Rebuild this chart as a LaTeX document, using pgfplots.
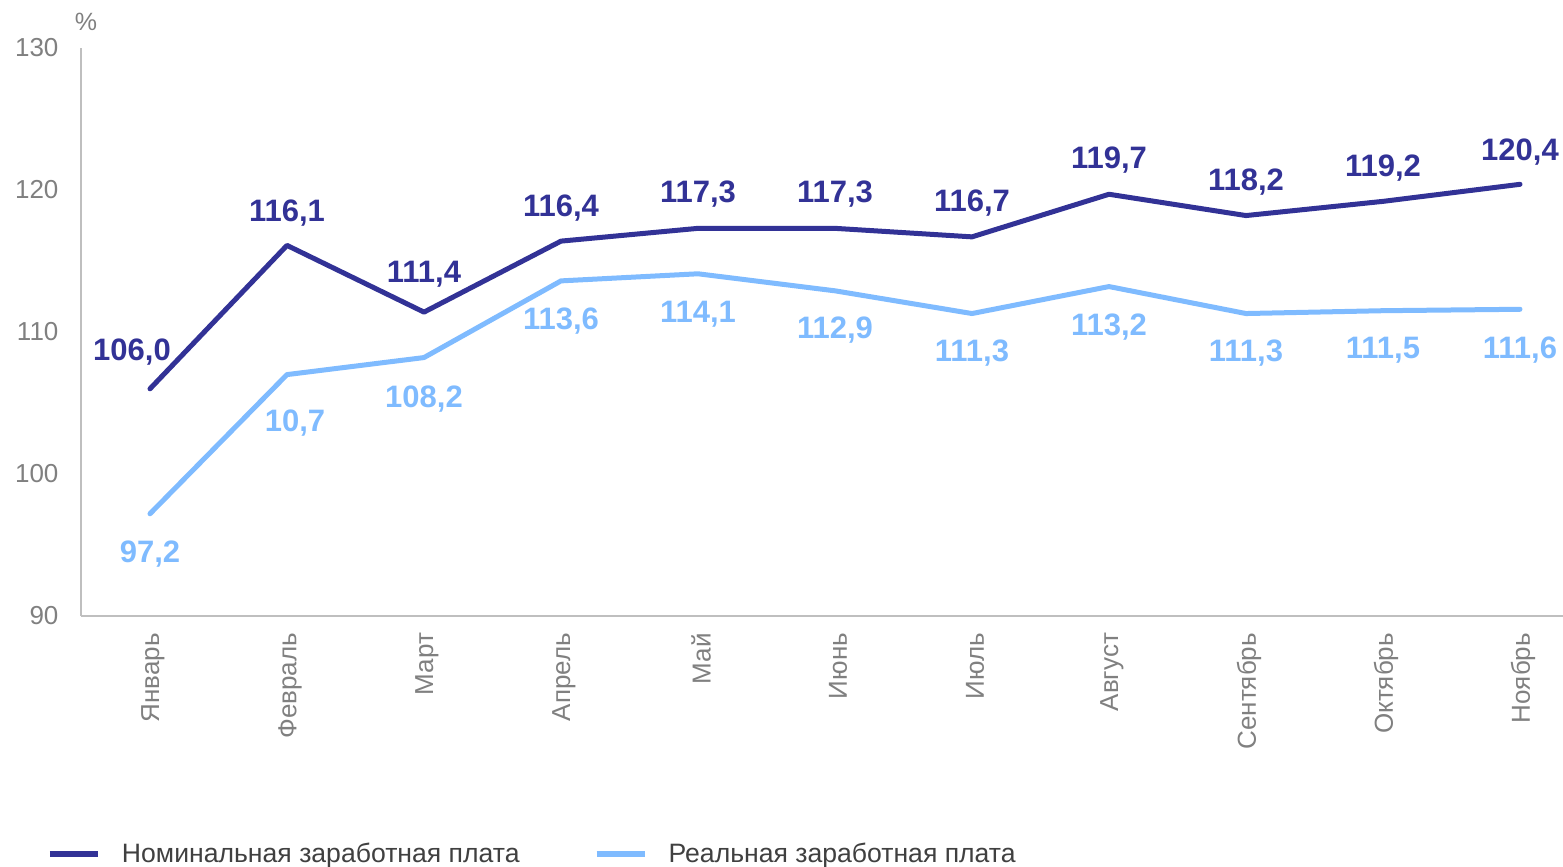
\documentclass[border=0pt]{standalone}
\usepackage{pgfplots}
\usepackage{pgfplotstable}
\pgfplotsset{compat=1.18}
\usepackage{fontspec}
\setmainfont{Liberation Sans}
\definecolor{nom}{RGB}{50,50,150}
\definecolor{real}{RGB}{127,187,255}
\definecolor{axgray}{RGB}{191,191,191}
\definecolor{txtgray}{RGB}{128,128,128}
\definecolor{leggray}{RGB}{64,64,64}

\pgfplotstableread{
x y label dx dy
0 106.0 106,0 -9 14
1 116.1 116,1 0 12
2 111.4 111,4 0 15
3 116.4 116,4 0 12.5
4 117.3 117,3 0 13
5 117.3 117,3 0 13
6 116.7 116,7 0 12.5
7 119.7 119,7 0 13
8 118.2 118,2 0 12.5
9 119.2 119,2 0 12.5
10 120.4 120,4 0 12
}\nominal

\pgfplotstableread{
x y label dx dy
0 97.2 97,2 0 -24.5
1 107.0 10,7 4 -28.5
2 108.2 108,2 0 -25
3 113.6 113,6 0 -24.5
4 114.1 114,1 0 -24.5
5 112.9 112,9 0 -24
6 111.3 111,3 0 -24
7 113.2 113,2 0 -24.5
8 111.3 111,3 0 -24
9 111.5 111,5 0 -24
10 111.6 111,6 0 -24.5
}\real

\begin{document}
\begin{tikzpicture}
\path[use as bounding box] (-40.75pt,-125.5pt) rectangle (740.75pt,308pt);
\begin{axis}[
  at={(0,0)}, anchor=south west,
  scale only axis,
  width=740.75pt, height=284pt,
  xmin=-0.5, xmax=10.314,
  ymin=90, ymax=130,
  ytick={90,100,...,130},
  xtick={0,...,10},
  xticklabels={Январь,Февраль,Март,Апрель,Май,Июнь,Июль,Август,Сентябрь,Октябрь,Ноябрь},
  axis x line*=bottom, axis y line*=left,
  axis line style={axgray, line width=1pt, -},
  major tick length=0pt,
  tick style={draw=none},
  /pgf/number format/assume math mode=true,
  yticklabel style={font=\fontsize{13}{15}\selectfont, text=txtgray, anchor=east, xshift=-8pt},
  xticklabel style={font=\fontsize{13}{15}\selectfont, text=txtgray, rotate=90, anchor=east, xshift=-5pt, yshift=-1.5pt},
  clip=false,
  legend columns=2,
  legend style={at={(rel axis cs:0,0)}, anchor=west, xshift=-17.25pt, yshift=-119pt,
    draw=none, fill=none, inner sep=0pt, outer sep=0pt,
    nodes={inner sep=0pt, font=\fontsize{13.3}{15}\selectfont, text=leggray},
    /tikz/every odd column/.append style={column sep=10.5pt},
    /tikz/every even column/.append style={column sep=37pt}},
  legend image code/.code={\draw[line width=3pt, line cap=butt] (0pt,0pt) -- (24pt,0pt);},
]
\addplot[nom, line width=2.5pt, line cap=round, line join=round,
  point meta=explicit symbolic,
  visualization depends on={\thisrow{dx}\as\dx},
  visualization depends on={\thisrow{dy}\as\dy},
  nodes near coords,
  nodes near coords style={anchor=base, xshift=\dx pt, yshift=\dy pt, text=nom, font=\fontsize{15.5}{17}\selectfont\bfseries}]
  table[x=x, y=y, meta=label] {\nominal};
\addlegendentry{Номинальная заработная плата}
\addplot[real, line width=2.5pt, line cap=round, line join=round,
  point meta=explicit symbolic,
  visualization depends on={\thisrow{dx}\as\dx},
  visualization depends on={\thisrow{dy}\as\dy},
  nodes near coords,
  nodes near coords style={anchor=base, xshift=\dx pt, yshift=\dy pt, text=real, font=\fontsize{15.5}{17}\selectfont\bfseries}]
  table[x=x, y=y, meta=label] {\real};
\addlegendentry{Реальная заработная плата}
\node[anchor=base west, text=txtgray, font=\fontsize{12.5}{14}\selectfont, inner sep=0pt] at ([xshift=-3.5pt, yshift=9pt]rel axis cs:0,1) {\%};
\end{axis}
\end{tikzpicture}
\end{document}
